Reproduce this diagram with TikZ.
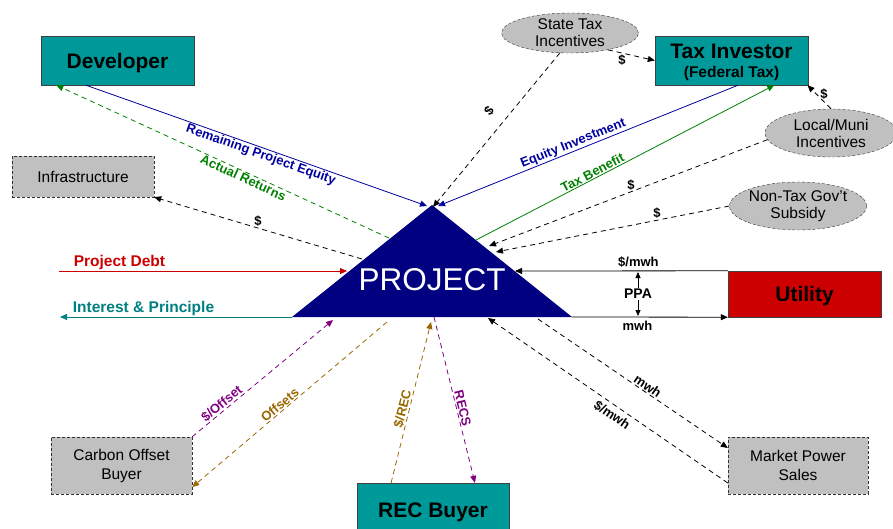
\documentclass[tikz,border=0pt]{standalone}
\usepackage{fontspec}
\setmainfont{Liberation Sans}
\usetikzlibrary{arrows.meta,shapes.geometric}
\definecolor{boxteal}{RGB}{0,153,153}
\definecolor{boxgray}{RGB}{192,192,192}
\definecolor{projnavy}{RGB}{0,0,128}
\definecolor{utilred}{RGB}{204,0,0}
\definecolor{eqblue}{RGB}{0,0,160}
\definecolor{taxgreen}{RGB}{0,128,0}
\definecolor{intteal}{RGB}{0,128,128}
\definecolor{recpurple}{RGB}{128,0,128}
\definecolor{recbrown}{RGB}{153,102,0}
\tikzset{
	mainbox/.style={draw=black!75, fill=boxteal, minimum width=153pt, minimum height=49pt, inner sep=0pt, font=\bfseries\fontsize{21}{23}\selectfont},
	onerow/.style={text depth=0pt},
	sidebox/.style={draw=black!80, dash pattern=on 3pt off 2pt, fill=boxgray, inner sep=0pt, align=center, font=\fontsize{15.5}{19}\selectfont},
	incent/.style={ellipse, draw=black!80, dash pattern=on 3pt off 2pt, fill=boxgray, inner sep=-3pt, align=center, font=\fontsize{15.5}{17}\selectfont},
	flow/.style={-{Triangle[length=7pt,width=6pt]}, line width=0.8pt},
	dflow/.style={flow, dash pattern=on 5pt off 4pt},
	lbl/.style={font=\bfseries\fontsize{13}{15}\selectfont, inner sep=1pt},
	biglbl/.style={lbl, font=\bfseries\fontsize{15.5}{17}\selectfont}
}

\begin{document}
\begin{tikzpicture}[x=1pt,y=-1pt]
	%%%%% START %%%%%
	\useasboundingbox (0,0) rectangle (893,529);
	
	% the project triangle
	\coordinate (pA) at (432,205);
	\coordinate (pBL) at (292,317);
	\coordinate (pBR) at (572,317);
	\fill[projnavy] (pA) -- (pBL) -- (pBR) -- cycle;
	\node[text=white, font=\fontsize{31.5}{34}\selectfont] (proj) at (432,280) {PROJECT};
	
	% where the connectors meet the triangle
	\coordinate (pEqL) at (427,206);
	\coordinate (pSt) at (433,207);
	\coordinate (pEqR) at (438,206);
	\coordinate (pAR) at (389,238);
	\coordinate (pInf) at (362,259);
	\coordinate (pTB) at (476,240);
	\coordinate (pLoc) at (489,246);
	\coordinate (pNT) at (496,252);
	\coordinate (pDebt) at (347,271);
	\coordinate (pUtil) at (515,271);
	\coordinate (pMw) at (538,319);
	\coordinate (pMs) at (488,318);
	\coordinate (pOff) at (333,320);
	\coordinate (pOffs) at (387,322);
	\coordinate (pRec) at (431,322);
	\coordinate (pRecs) at (434,317);
	\coordinate (debtS) at (59,271);
	\coordinate (intE) at (60,317);
	\coordinate (ppaT) at (638,272);
	\coordinate (ppaB) at (638,316);
	
	% parties
	\node[mainbox, onerow] (dev) at (117.5,60.5) {Developer};
	\node[mainbox, align=center, text depth=0pt] (taxinv) at (731.5,60.5) {Tax Investor\\[-4pt]{\fontsize{15.5}{17}\selectfont(Federal Tax)}};
	\node[mainbox, onerow, fill=utilred, minimum height=46pt] (util) at (804.5,294) {Utility};
	\node[mainbox, onerow, minimum width=152pt, minimum height=54pt] (rec) at (433,510) {REC Buyer};
	\node[sidebox, minimum width=142pt, minimum height=41pt] (infra) at (83,176.5) {Infrastructure};
	\node[sidebox, minimum width=141pt, minimum height=57pt] (carbon) at (121.5,465.5) {Carbon Offset\\Buyer};
	\node[sidebox, minimum width=140pt, minimum height=57pt] (market) at (798,465.5) {Market Power\\Sales};
	\node[incent, minimum width=137pt, minimum height=40pt] (state) at (570,33) {State Tax\\Incentives};
	\node[incent, minimum width=132pt, minimum height=48pt] (local) at (831,133) {Local/Muni\\Incentives};
	\node[incent, minimum width=137pt, minimum height=48pt] (nontax) at (798,206) {Non-Tax Gov’t\\Subsidy};
	
	% equity
	\draw[flow, eqblue] (dev.218) -- node[lbl, sloped, below, pos=0.52] {Remaining Project Equity} (pEqL);
	\draw[dflow, taxgreen] (pAR) -- node[lbl, sloped, below, pos=0.43] {Actual Returns} (dev.202);
	\draw[flow, eqblue] (taxinv.285) -- node[lbl, sloped, above, pos=0.54] {Equity Investment} (pEqR);
	\draw[flow, taxgreen] (pTB) -- node[lbl, sloped, above, pos=0.4] {Tax Benefit} (taxinv.330);
	\draw[dflow] (pInf) -- node[lbl, above, pos=0.5] {\$} (infra.south east);
	
	% incentives
	\draw[dflow] (state.243) -- node[lbl, sloped, above=11pt, pos=0.45] {\$} (pSt);
	\draw[dflow] (state.336) -- node[lbl, below, pos=0.3] {\$} (taxinv.west);
	\draw[dflow] (local.north) -- node[lbl, right=2pt, pos=0.6] {\$} (taxinv.342);
	\draw[dflow] (local.186) -- node[lbl, above, pos=0.49] {\$} (pLoc);
	\draw[dflow] (nontax.west) -- node[lbl, above, pos=0.31] {\$} (pNT);
	
	% debt
	\draw[flow, utilred] (debtS) -- node[biglbl, above, pos=0.21] {Project Debt} (pDebt);
	\draw[flow, intteal] (pBL) -- node[biglbl, above, pos=0.64] {Interest \& Principle} (intE);
	
	% power sales
	\draw[flow] (util.north west) -- node[lbl, above=2pt, pos=0.42] {\$/mwh} (pUtil);
	\draw[flow] (pBR) -- node[lbl, below=3pt, pos=0.42] {mwh} (util.south west);
	\draw[{Triangle[length=6pt,width=5pt]}-{Triangle[length=6pt,width=5pt]}, line width=0.8pt] (ppaT) -- node[lbl, fill=white, font=\bfseries\fontsize{14}{16}\selectfont] {PPA} (ppaB);
	\draw[dflow] (pMw) -- node[lbl, sloped, above, pos=0.56] {mwh} (market.166);
	\draw[dflow] (market.194) -- node[lbl, sloped, below=3pt, pos=0.46] {\$/mwh} (pMs);
	
	% offsets and RECs
	\draw[dflow, recpurple] (carbon.north east) -- node[lbl, sloped, above, pos=0.24] {\$/Offset} (pOff);
	\draw[dflow, recbrown] (pOffs) -- node[lbl, sloped, above, pos=0.53] {Offsets} (carbon.343);
	\draw[dflow, recbrown] (rec.147) -- node[lbl, sloped, above, pos=0.45] {\$/REC} (pRec);
	\draw[dflow, recpurple] (pRecs) -- node[lbl, sloped, above, pos=0.56] {RECS} (rec.33);
	%%%%% END %%%%%
\end{tikzpicture}
\end{document}
